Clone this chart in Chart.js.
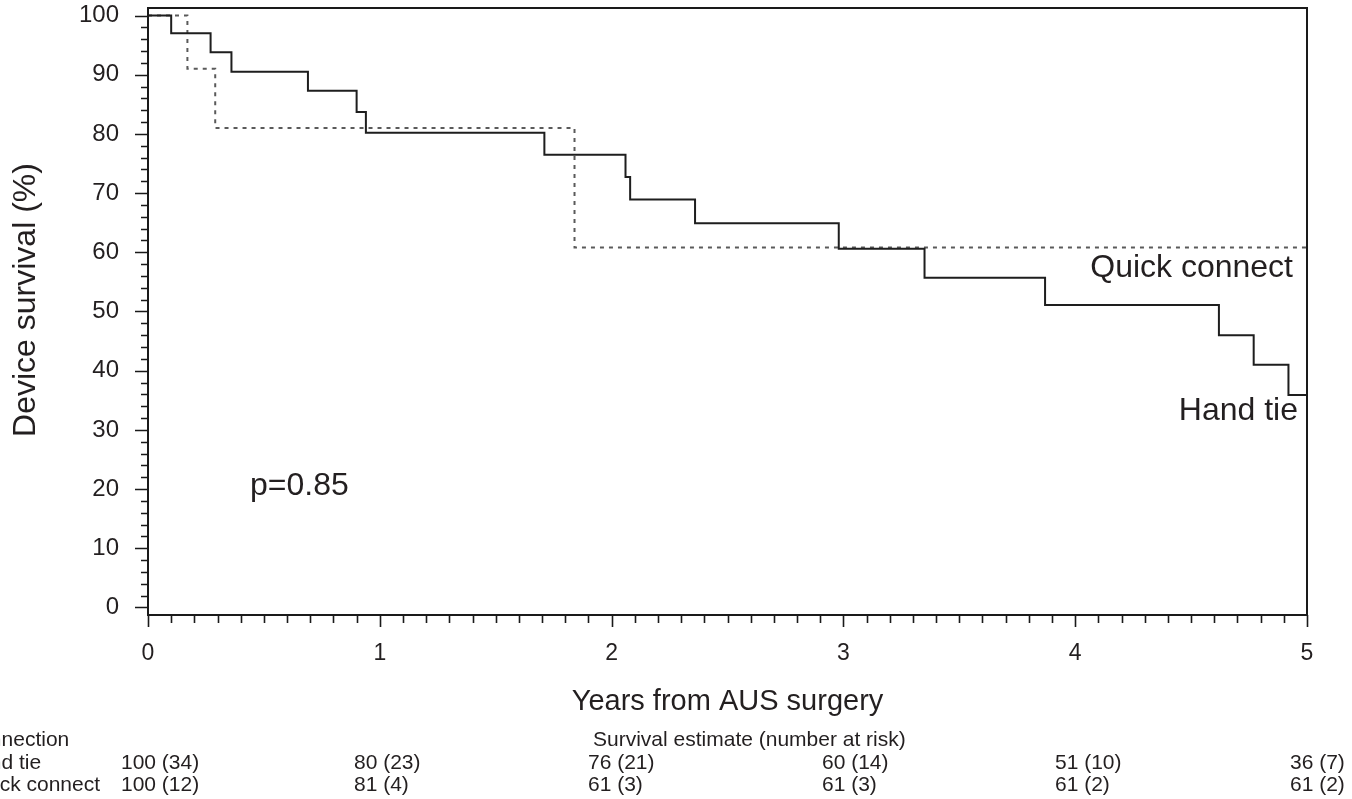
<!DOCTYPE html>
<html>
<head>
<meta charset="utf-8">
<style>
  html, body { margin: 0; padding: 0; background: #fff; }
  canvas { display: block; }
</style>
</head>
<body>
<canvas id="km" width="1352" height="799"></canvas>
<script src="https://cdn.jsdelivr.net/npm/chart.js@4/dist/chart.umd.min.js"></script>
<script>
// Kaplan-Meier steps (years, survival %)
const handTieYears = [0, 0.10, 0.27, 0.36, 0.69, 0.90, 0.94, 1.71, 2.06, 2.08, 2.36, 2.98, 3.35, 3.87, 4.62, 4.77, 4.92, 5.0];
const handTieSurv  = [100, 97.0, 93.8, 90.5, 87.3, 83.7, 80.2, 76.5, 72.7, 68.9, 64.9, 60.6, 55.7, 51.1, 46.0, 41.0, 35.9, 35.9];
const quickYears   = [0, 0.17, 0.29, 1.84, 5.0];
const quickSurv    = [100, 91.0, 81.0, 60.8, 60.8];

const xTicks = [0, 1, 2, 3, 4, 5];
const yTicks = [0, 10, 20, 30, 40, 50, 60, 70, 80, 90, 100];

// table under the plot: survival estimate (number at risk) per year
const tableYears      = [0, 1, 2, 3, 4, 5];
const handTieEstimate = [100, 80, 76, 60, 51, 36];
const handTieAtRisk   = [34, 23, 21, 14, 10, 7];
const quickEstimate   = [100, 81, 61, 61, 61, 61];
const quickAtRisk     = [12, 4, 3, 3, 2, 2];

const FONT = '"Liberation Sans", Arial, Helvetica, sans-serif';
const INK = '#231f20';
const tableColumnX = [121, 354, 588, 822, 1055, 1290];

function toPoints(xs, ys) {
  return xs.map((v, i) => ({ x: v, y: ys[i] }));
}

// frame, minor/major tick marks, titles, labels and the risk table
const kmDecor = {
  id: 'kmDecor',
  afterDraw(chart) {
    const { ctx, chartArea: a, scales: { x, y } } = chart;
    ctx.save();
    ctx.strokeStyle = '#1a1a1a';
    ctx.lineWidth = 2;
    ctx.strokeRect(a.left, a.top, a.right - a.left, a.bottom - a.top);

    ctx.lineWidth = 1.6;
    ctx.beginPath();
    for (let v = 0; v <= 100; v += 2) {
      const py = Math.round(y.getPixelForValue(v)) + 0.5;
      const len = v % 10 === 0 ? 13 : 7;
      ctx.moveTo(a.left, py);
      ctx.lineTo(a.left - len, py);
    }
    for (let i = 0; i <= 50; i++) {
      const px = Math.round(x.getPixelForValue(i / 10)) + 0.5;
      const len = i % 10 === 0 ? 12 : 8;
      ctx.moveTo(px, a.bottom);
      ctx.lineTo(px, a.bottom + len);
    }
    ctx.stroke();

    ctx.fillStyle = INK;
    ctx.textBaseline = 'alphabetic';

    // axis titles
    ctx.font = '32px ' + FONT;
    ctx.save();
    ctx.translate(35, 300);
    ctx.rotate(-Math.PI / 2);
    ctx.textAlign = 'center';
    ctx.fillText('Device survival (%)', 0, 0);
    ctx.restore();

    ctx.font = '29px ' + FONT;
    ctx.textAlign = 'center';
    ctx.fillText('Years from AUS surgery', (a.left + a.right) / 2, 710);

    // curve labels and p value
    ctx.font = '32px ' + FONT;
    ctx.textAlign = 'right';
    ctx.fillText('Quick connect', 1293, 277);
    ctx.fillText('Hand tie', 1298, 420);
    ctx.textAlign = 'left';
    ctx.fillText('p=0.85', 250, 495);

    // risk table
    ctx.font = '21px ' + FONT;
    ctx.fillText('Connection', -37, 746);
    ctx.fillText('Survival estimate (number at risk)', 593, 746);
    ctx.fillText('Hand tie', -37, 769);
    ctx.fillText('Quick connect', -33, 791);
    tableYears.forEach((yr, i) => {
      ctx.fillText(handTieEstimate[i] + ' (' + handTieAtRisk[i] + ')', tableColumnX[i], 769);
      ctx.fillText(quickEstimate[i] + ' (' + quickAtRisk[i] + ')', tableColumnX[i], 791);
    });
    ctx.restore();
  }
};

const km = new Chart(document.getElementById('km'), {
  type: 'line',
  data: {
    datasets: [
      {
        label: 'Hand tie',
        data: toPoints(handTieYears, handTieSurv),
        borderColor: '#1e1e1e',
        borderWidth: 2,
        stepped: true,
        pointRadius: 0,
        fill: false
      },
      {
        label: 'Quick connect',
        data: toPoints(quickYears, quickSurv),
        borderColor: '#5a5a5a',
        borderWidth: 2,
        borderDash: [4, 5],
        stepped: true,
        pointRadius: 0,
        fill: false
      }
    ]
  },
  options: {
    responsive: false,
    animation: false,
    events: [],
    layout: { padding: { top: 8, right: 45, bottom: 0, left: 0 } },
    plugins: {
      legend: { display: false },
      tooltip: { enabled: false }
    },
    scales: {
      x: {
        type: 'linear',
        min: 0,
        max: 5,
        afterBuildTicks: (scale) => { scale.ticks = xTicks.map(v => ({ value: v })); },
        afterFit: (scale) => {
          scale.height = 184;
          scale.paddingLeft = 0;
          scale.paddingRight = 0;
        },
        border: { display: false },
        grid: { drawOnChartArea: false, drawTicks: true, tickLength: 12, color: 'transparent' },
        ticks: { padding: 13, color: INK, font: { family: FONT, size: 23 }, maxRotation: 0 }
      },
      y: {
        type: 'linear',
        min: -1.27,
        max: 101.27,
        afterBuildTicks: (scale) => { scale.ticks = yTicks.map(v => ({ value: v })); },
        afterFit: (scale) => {
          scale.width = 148;
          scale.paddingTop = 0;
          scale.paddingBottom = 0;
        },
        border: { display: false },
        grid: { drawOnChartArea: false, drawTicks: true, tickLength: 13, color: 'transparent' },
        ticks: { padding: 16, color: INK, font: { family: FONT, size: 24 } }
      }
    }
  },
  plugins: [kmDecor]
});
</script>
</body>
</html>
